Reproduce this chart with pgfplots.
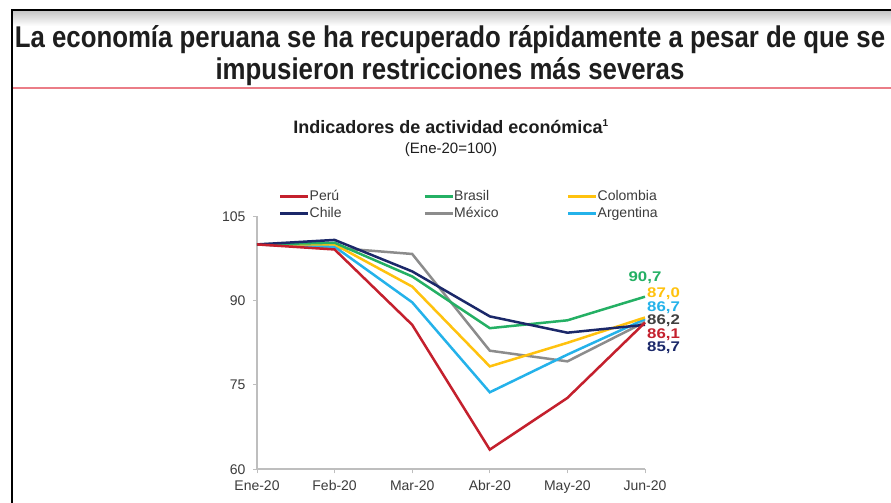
\documentclass[border=0pt]{standalone}
\usepackage{fontspec}
\setmainfont{Liberation Sans}
\newfontfamily\titlefont[FakeStretch=0.86]{Liberation Sans}
\newfontfamily\widefont[FakeStretch=1.2]{Liberation Sans}
\usepackage{pgfplots}
\pgfplotsset{compat=1.18}
\definecolor{peru}{RGB}{196,32,45}
\definecolor{brasil}{RGB}{36,176,100}
\definecolor{colombia}{RGB}{255,194,14}
\definecolor{chile}{RGB}{27,40,105}
\definecolor{mexico}{RGB}{140,140,140}
\definecolor{argentina}{RGB}{36,178,234}
\definecolor{redline}{RGB}{235,125,135}
\definecolor{txt}{RGB}{30,30,30}
\definecolor{axgray}{RGB}{190,190,190}
\definecolor{lbl}{RGB}{60,60,60}
\begin{document}
\begin{tikzpicture}
\useasboundingbox (0pt,0pt) rectangle (891pt,-503pt);
\fill[white] (0pt,0pt) rectangle (891pt,-503pt);
\shade[top color=black!22, bottom color=white] (12pt,-11pt) rectangle (891pt,-26pt);
\draw[black, line width=2pt] (12pt,-503pt) -- (12pt,-10.5pt) -- (891pt,-10.5pt);
\draw[redline, line width=2.5pt] (13pt,-88pt) -- (891pt,-88pt);
\node[font=\titlefont\bfseries\fontsize{30pt}{36pt}\selectfont, anchor=base, text=txt, inner sep=0pt] at (450pt,-48pt) {La economía peruana se ha recuperado rápidamente a pesar de que se};
\node[font=\titlefont\bfseries\fontsize{30pt}{36pt}\selectfont, anchor=base, text=txt, inner sep=0pt] at (450pt,-79pt) {impusieron restricciones más severas};
\node[font=\bfseries\fontsize{18pt}{21pt}\selectfont, anchor=base, text=txt, inner sep=0pt] at (451pt,-133pt) {Indicadores de actividad económica\textsuperscript{\fontsize{10pt}{12pt}\selectfont 1}};
\node[font=\fontsize{15pt}{18pt}\selectfont, anchor=base, text=txt, inner sep=0pt] at (451pt,-153pt) {(Ene-20=100)};
\begin{axis}[
  at={(257pt,-469.3pt)}, anchor=south west,
  scale only axis, width=388pt, height=253pt,
  xmin=0, xmax=5, ymin=60, ymax=105,
  axis x line*=bottom, axis y line*=left,
  axis line style={axgray, line width=2pt},
  xtick={0,1,2,3,4,5},
  xticklabels={Ene-20,Feb-20,Mar-20,Abr-20,May-20,Jun-20},
  ytick={60,75,90,105},
  tick align=outside, major tick length=4pt,
  tick style={axgray, line width=1pt},
  /pgf/number format/assume math mode=true,
  ticklabel style={font=\fontsize{14pt}{16pt}\selectfont, text=lbl},
  xticklabel style={yshift=-4pt},
  yticklabel style={xshift=-4pt},
  clip=false,
  legend columns=3,
  legend image code/.code={\draw[#1, line width=2.5pt] (0pt,0pt) -- (28pt,0pt);},
  legend style={at={(0.0567,1.104)}, anchor=north west, draw=none, fill=none,
    inner sep=0pt, row sep=4pt,
    nodes={inner sep=0pt, text height=10pt, text depth=3pt},
    font=\fontsize{14pt}{16pt}\selectfont, text=lbl},
  legend cell align=left,
]
\addlegendimage{peru}\addlegendentry{\makebox[114pt][l]{Perú}}
\addlegendimage{brasil}\addlegendentry{\makebox[113pt][l]{Brasil}}
\addlegendimage{colombia}\addlegendentry{\makebox[60pt][l]{Colombia}}
\addlegendimage{chile}\addlegendentry{\makebox[114pt][l]{Chile}}
\addlegendimage{mexico}\addlegendentry{\makebox[113pt][l]{México}}
\addlegendimage{argentina}\addlegendentry{\makebox[60pt][l]{Argentina}}

\addplot[mexico, line width=2.5pt, forget plot] coordinates {(0,100) (1,99.4) (2,98.3) (3,81.1) (4,79.2) (5,86.2)};
\addplot[argentina, line width=2.5pt, forget plot] coordinates {(0,100) (1,99.6) (2,89.7) (3,73.7) (4,80.4) (5,86.7)};
\addplot[colombia, line width=2.5pt, forget plot] coordinates {(0,100) (1,100.0) (2,92.5) (3,78.3) (4,82.5) (5,87.0)};
\addplot[brasil, line width=2.5pt, forget plot] coordinates {(0,100) (1,100.3) (2,94.3) (3,85.1) (4,86.5) (5,90.7)};
\addplot[chile, line width=2.5pt, forget plot] coordinates {(0,100) (1,100.8) (2,95.2) (3,87.2) (4,84.3) (5,85.7)};
\addplot[peru, line width=2.5pt, forget plot] coordinates {(0,100) (1,99.1) (2,85.7) (3,63.5) (4,72.7) (5,86.1)};

\begin{scope}[every node/.style={font=\widefont\bfseries\fontsize{14pt}{16pt}\selectfont, inner sep=0pt}]
\node[text=brasil, anchor=center] at (axis cs:5,94.0) {90,7};
\node[text=colombia, anchor=west, xshift=2pt] at (axis cs:5,91.2) {87,0};
\node[text=argentina, anchor=west, xshift=2pt] at (axis cs:5,88.8) {86,7};
\node[text=txt!85, anchor=west, xshift=2pt] at (axis cs:5,86.4) {86,2};
\node[text=peru, anchor=west, xshift=2pt] at (axis cs:5,84.0) {86,1};
\node[text=chile, anchor=west, xshift=2pt] at (axis cs:5,81.6) {85,7};
\end{scope}
\end{axis}
\end{tikzpicture}
\end{document}
